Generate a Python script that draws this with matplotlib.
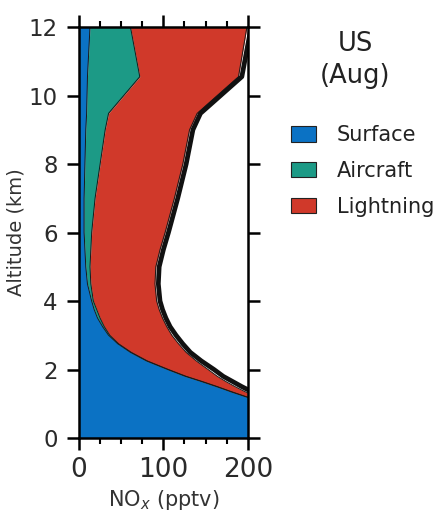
import numpy as np
import matplotlib.pyplot as plt
from matplotlib.patches import Patch
from matplotlib.ticker import MultipleLocator

# altitude levels (km) and cumulative NOx edges (pptv) for the stacked sources
altitude = [0.0, 1.0, 1.2, 1.35, 1.5, 1.65, 1.8, 2.0, 2.25, 2.5, 2.75, 3.0, 3.25,
            3.5, 3.75, 4.0, 4.5, 5.0, 5.5, 6.0, 7.0, 8.0, 9.0, 9.48, 10.55, 12.0]
surface = [240, 230, 198, 180, 163, 145, 126, 105, 80, 61, 46, 35, 28,
           22, 18, 15, 10, 8, 7, 6, 6, 7, 8, 9, 10, 13]
aircraft_top = [240, 231, 199, 181, 164, 146, 127, 106, 81, 62, 47, 36.5, 30,
                25, 21, 17, 14, 13, 14, 15, 19, 25, 31, 35, 72, 61]
lightning_top = [240, 240, 212, 197, 185, 174, 164, 153, 139, 127, 118, 110, 104,
                 99, 95, 92, 90, 91, 96, 102, 113, 123, 131, 140, 189, 199]
total = [246, 246, 220, 205, 193, 182, 171, 160, 145, 132, 123, 115, 108,
         103, 99, 96, 94, 95, 100, 106, 117, 127, 135, 144, 193, 204]

blue = "#0b72c4"
teal = "#1c9a86"
red = "#d0392a"

fig = plt.figure(figsize=(4.44, 5.15), dpi=100)
ax = fig.add_axes([0.178, 0.1495, 0.38, 0.798])

z = np.array(altitude)
ax.fill_betweenx(z, 0, surface, color=blue, lw=0)
ax.fill_betweenx(z, surface, aircraft_top, color=teal, lw=0)
ax.fill_betweenx(z, aircraft_top, lightning_top, color=red, lw=0)
ax.plot(surface, z, color="#1a1a1a", lw=0.7)
ax.plot(aircraft_top, z, color="#1a1a1a", lw=0.7)
ax.plot(lightning_top, z, color="#1a1a1a", lw=0.7)
ax.plot(total, z, color="#111111", lw=3.4, solid_joinstyle="round")

ax.set_xlim(0, 200)
ax.set_ylim(0, 12)
ax.xaxis.set_major_locator(MultipleLocator(100))
ax.xaxis.set_minor_locator(MultipleLocator(25))
ax.yaxis.set_major_locator(MultipleLocator(2))
ax.tick_params(which="major", direction="out", length=8.5, width=1.8,
               top=True, right=True, labelcolor="#2a2a2a")
ax.tick_params(axis="x", which="major", labelsize=19, pad=5)
ax.tick_params(axis="y", which="major", labelsize=16.5, pad=7)
ax.tick_params(which="minor", direction="out", length=4, width=1.5, top=True)
ax.tick_params(axis="y", which="minor", left=False, right=False)
for s in ax.spines.values():
    s.set_linewidth(1.8)

ax.set_xlabel("NO$_x$ (pptv)", fontsize=15, color="#333333", labelpad=4)
ax.set_ylabel("Altitude (km)", fontsize=14, color="#333333", labelpad=2)

fig.text(0.80, 0.883, "US\n(Aug)", ha="center", va="center", fontsize=18.5,
         color="#222222", linespacing=1.3)

handles = [Patch(facecolor=blue, edgecolor="#222222", lw=0.8, label="Surface"),
           Patch(facecolor=teal, edgecolor="#222222", lw=0.8, label="Aircraft"),
           Patch(facecolor=red, edgecolor="#222222", lw=0.8, label="Lightning")]
fig.legend(handles=handles, loc="center left", bbox_to_anchor=(0.655, 0.668),
           frameon=False, fontsize=15, handlelength=1.2, handleheight=0.75,
           handletextpad=1.0, labelspacing=0.75, labelcolor="#222222",
           borderpad=0, borderaxespad=0)

fig.savefig("out.png", dpi=100)
